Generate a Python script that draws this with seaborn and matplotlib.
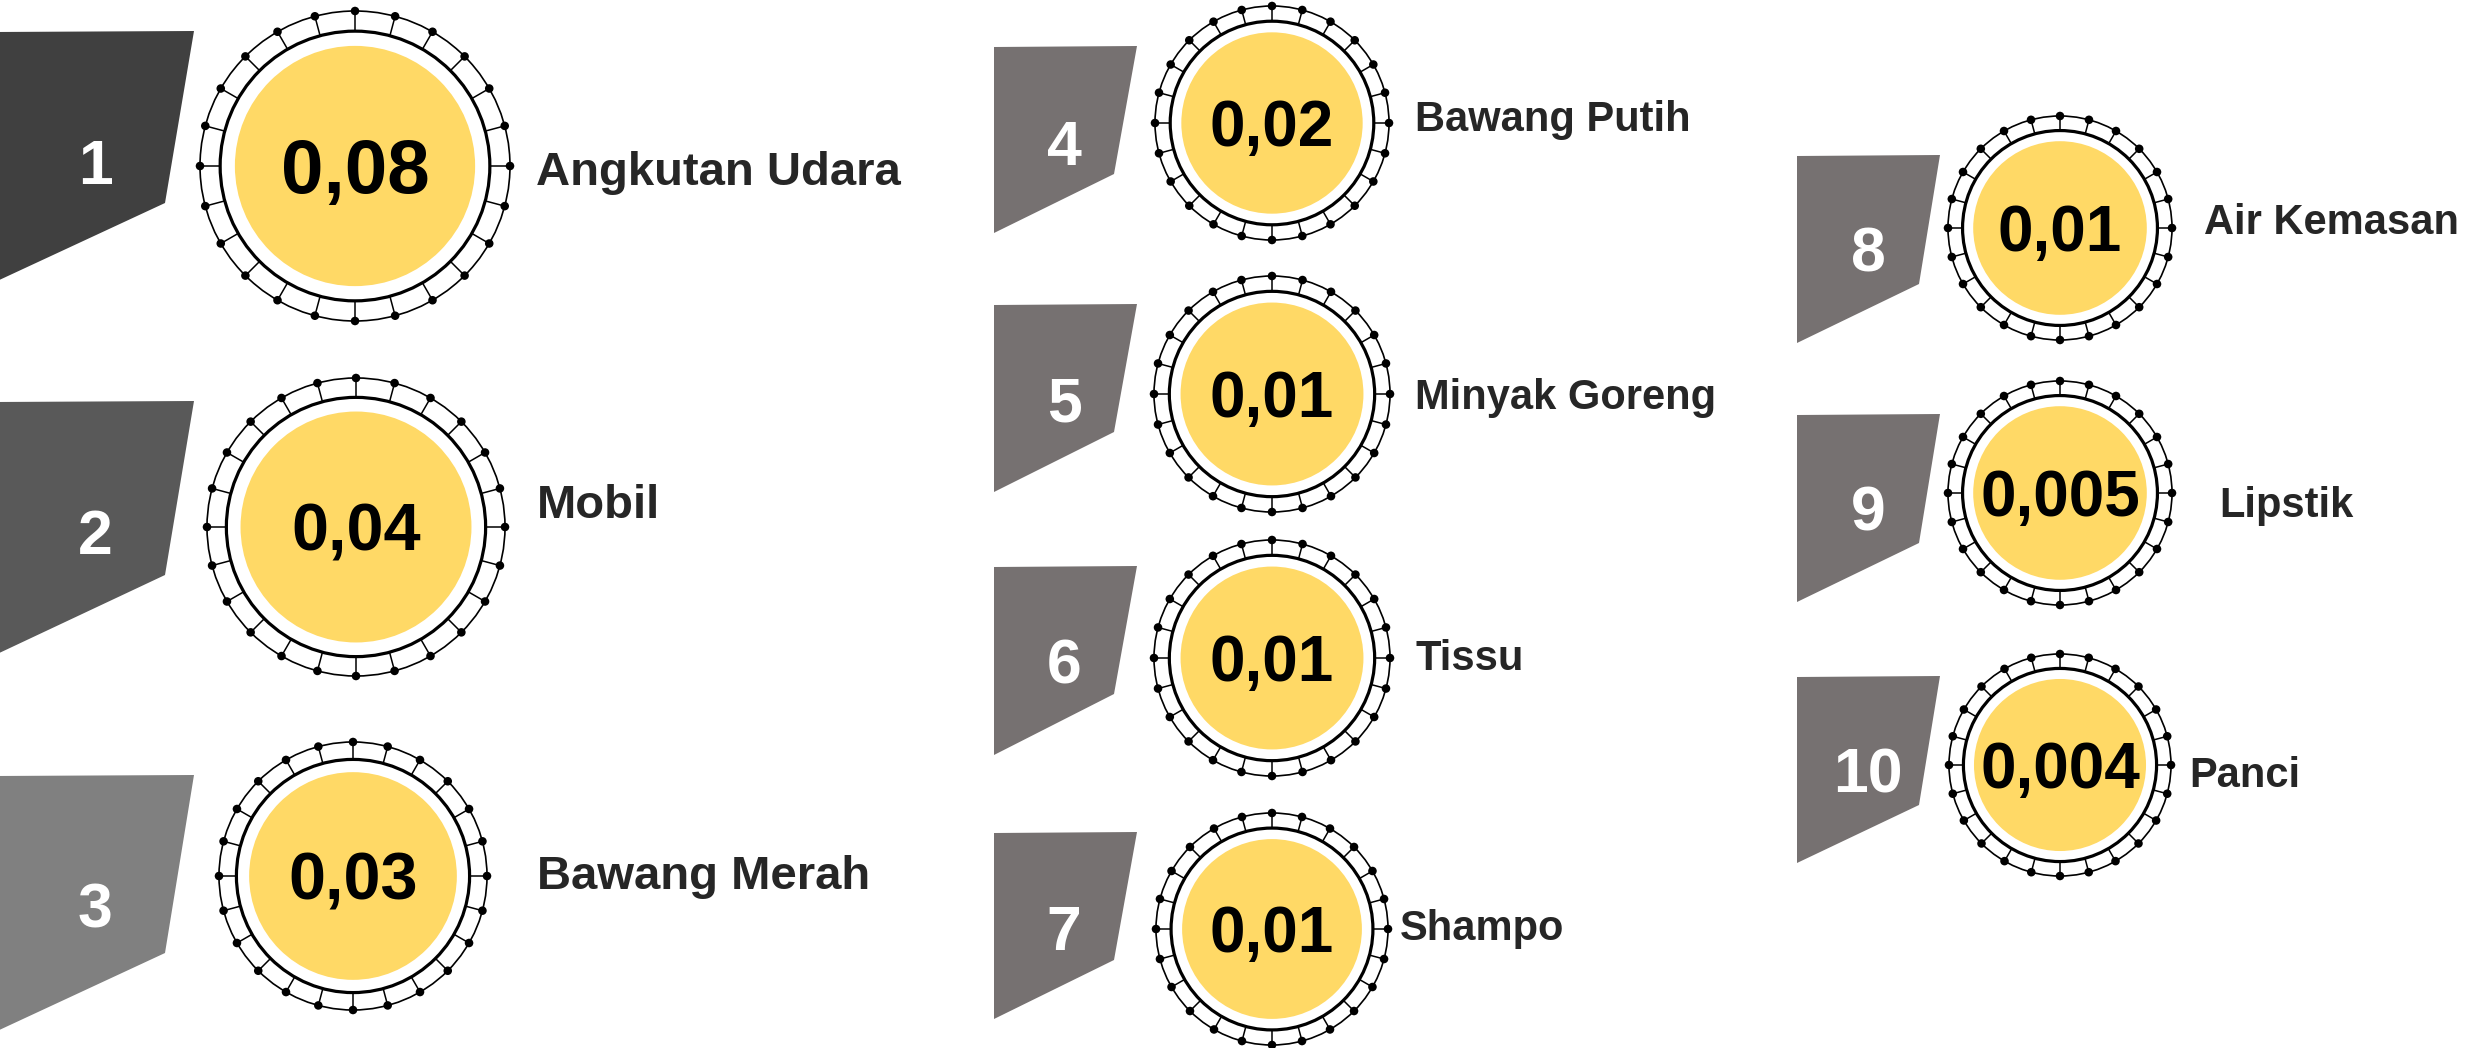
#!/usr/bin/env python3
"""Infografis: 10 komoditas dengan andil inflasi terbesar."""

import matplotlib.pyplot as plt
import numpy as np
import pandas as pd
import seaborn as sns
from matplotlib.patches import Circle, Polygon

# data
ranks = [1, 2, 3, 4, 5, 6, 7, 8, 9, 10]
values = [0.08, 0.04, 0.03, 0.02, 0.01, 0.01, 0.01, 0.01, 0.005, 0.004]
items = ["Angkutan Udara", "Mobil", "Bawang Merah", "Bawang Putih", "Minyak Goreng",
         "Tissu", "Shampo", "Air Kemasan", "Lipstik", "Panci"]

# layout (pixel coordinates of a 2491x1048 canvas)
circle_x = [355, 356, 353, 1272, 1272, 1272, 1272, 2060, 2060, 2060]
circle_y = [166, 527, 876, 123, 394, 658, 929, 228, 493, 765]
circle_r = [155, 149, 134, 117, 118, 118, 116, 112, 112, 111]
ribbon_x = [-5, -5, -5, 994, 994, 994, 994, 1797, 1797, 1797]
ribbon_top = [32, 402, 776, 47, 305, 567, 833, 156, 415, 677]
ribbon_w = [199, 199, 199, 143, 143, 143, 143, 143, 143, 143]
ribbon_h = [250, 253, 256, 186, 187, 188, 186, 187, 187, 186]
ribbon_h1 = [171, 173, 177, 127, 127, 127, 127, 128, 128, 128]
ribbon_dx = [29, 29, 29, 23, 23, 23, 23, 21, 21, 21]
ribbon_col = ["#404040", "#595959", "#808080"] + ["#767171"] * 7
rank_x = [95, 95, 95, 1064, 1064, 1064, 1064, 1868, 1868, 1868]
rank_y = [162, 532, 905, 143, 399, 661, 928, 249, 508, 770]
value_size = [55, 48, 48, 46, 46, 46, 46, 46, 46, 46]
label_x = [536, 537, 537, 1415, 1415, 1415, 1400, 2204, 2219, 2189]
label_y = [168, 501, 872, 116, 394, 655, 925, 219, 502, 772]
label_size = [34, 34, 34, 30, 30, 30, 30, 30, 30, 30]

W, H, DPI = 2491, 1048, 100
N_SPOKES = 24


def put_text(ax, x, yc, s, size, ha="center", **kw):
    # place text so that the cap height is centred on yc
    cap = 0.716 * size * DPI / 72
    ax.text(x, yc + cap / 2, s, fontsize=size, ha=ha, va="baseline",
            fontweight="bold", **kw)


def draw_badge(ax, cx, cy, r, value, size):
    r_in, r_y = 0.87 * r, 0.775 * r
    ax.add_patch(Circle((cx, cy), r_y, fc="#FFD966", ec="none", zorder=2))
    ax.add_patch(Circle((cx, cy), r_in, fc="none", ec="black", lw=2.3, zorder=3))
    ax.add_patch(Circle((cx, cy), r, fc="none", ec="black", lw=1.2, zorder=3))
    ang = np.pi / 2 + np.arange(N_SPOKES) * 2 * np.pi / N_SPOKES
    for a in ang:
        ax.plot([cx + r_in * np.cos(a), cx + r * np.cos(a)],
                [cy - r_in * np.sin(a), cy - r * np.sin(a)],
                color="black", lw=1.1, zorder=3)
    dots = pd.DataFrame({"x": cx + r * np.cos(ang), "y": cy - r * np.sin(ang)})
    sns.scatterplot(data=dots, x="x", y="y", ax=ax, s=38, color="black",
                    edgecolor="none", zorder=4, legend=False)
    put_text(ax, cx, cy, f"{value:g}".replace(".", ","), size, color="black", zorder=5)


def main() -> None:
    sns.set_theme(style="white")
    plt.rcParams["font.family"] = ["Liberation Sans", "DejaVu Sans"]

    fig = plt.figure(figsize=(W / DPI, H / DPI), dpi=DPI)
    ax = fig.add_axes([0, 0, 1, 1])
    ax.set_xlim(0, W)
    ax.set_ylim(H, 0)
    ax.set_aspect("equal")
    ax.axis("off")

    for i in range(len(ranks)):
        x0, y0 = ribbon_x[i], ribbon_top[i]
        w, h, h1, dx = ribbon_w[i], ribbon_h[i], ribbon_h1[i], ribbon_dx[i]
        poly = [(x0, y0), (x0 + w, y0 - 1), (x0 + w - dx, y0 + h1), (x0, y0 + h)]
        ax.add_patch(Polygon(poly, closed=True, fc=ribbon_col[i], ec="none", zorder=1))
        put_text(ax, rank_x[i], rank_y[i], str(ranks[i]), 45, color="white", zorder=2)

        draw_badge(ax, circle_x[i], circle_y[i], circle_r[i], values[i], value_size[i])
        put_text(ax, label_x[i], label_y[i], items[i], label_size[i], ha="left",
                 color="#262626")

    fig.savefig("out.png", dpi=DPI)
    plt.close(fig)


if __name__ == "__main__":
    main()
